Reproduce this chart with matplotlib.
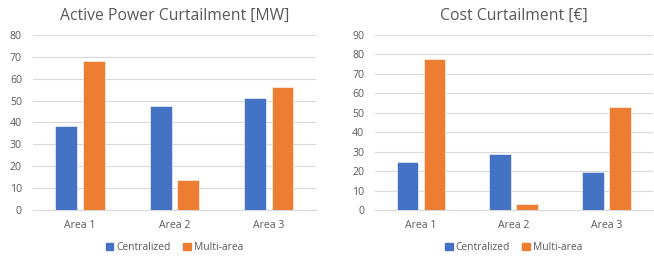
import matplotlib
matplotlib.use("Agg")
import matplotlib.pyplot as plt
import numpy as np
from matplotlib.patches import Patch

categories = ["Area 1", "Area 2", "Area 3"]
series_names = ["Centralized", "Multi-area"]
power_centralized = [38.3, 47.7, 51.2]
power_multi = [68.0, 13.6, 56.1]
cost_centralized = [24.9, 28.6, 19.7]
cost_multi = [77.8, 3.1, 52.8]
power_yticks = [0, 10, 20, 30, 40, 50, 60, 70, 80]
cost_yticks = [0, 10, 20, 30, 40, 50, 60, 70, 80, 90]

BLUE = "#4472C4"
ORANGE = "#ED7D31"
TEXT = "#595959"
GRID = "#D9D9D9"

plt.rcParams["font.family"] = ["Open Sans", "DejaVu Sans"]

fig = plt.figure(figsize=(6.54, 2.57), dpi=100)

def draw(ax, title, c, m, yticks, ypad):
    x = np.arange(len(categories))
    w = 0.233
    off = 0.146
    ax.bar(x - off, c, w, color=BLUE, edgecolor="#FFFFFF", linewidth=0.4, zorder=3)
    ax.bar(x + off, m, w, color=ORANGE, edgecolor="#FFFFFF", linewidth=0.4, zorder=3)
    ax.set_xlim(-0.5, len(categories) - 0.5)
    ax.set_ylim(yticks[0], yticks[-1])
    ax.set_yticks(yticks)
    ax.set_xticks(x)
    ax.set_xticklabels(categories)
    ax.tick_params(axis="both", length=0, labelsize=7.6, colors=TEXT)
    ax.tick_params(axis="x", pad=7)
    ax.tick_params(axis="y", pad=ypad)
    ax.grid(axis="y", color=GRID, linewidth=0.8, zorder=0)
    for s in ["top", "right", "left"]:
        ax.spines[s].set_visible(False)
    ax.spines["bottom"].set_color(GRID)
    ax.spines["bottom"].set_linewidth(0.8)
    ax.set_title(title, fontsize=11.3, color=TEXT, pad=11)
    handles = [Patch(color=BLUE), Patch(color=ORANGE)]
    ax.legend(handles, series_names, loc="upper center", bbox_to_anchor=(0.5, -0.13),
              ncol=2, frameon=False, fontsize=7.4, labelcolor=TEXT,
              handlelength=0.75, handleheight=0.75, handletextpad=0.3, columnspacing=1.2)

ax1 = fig.add_axes([0.0505, 0.183, 0.4325, 0.681])
ax2 = fig.add_axes([0.573, 0.183, 0.425, 0.681])
draw(ax1, "Active Power Curtailment [MW]", power_centralized, power_multi, power_yticks, 8)
draw(ax2, "Cost Curtailment [€]", cost_centralized, cost_multi, cost_yticks, 7.5)

fig.savefig("out.png", dpi=100)
